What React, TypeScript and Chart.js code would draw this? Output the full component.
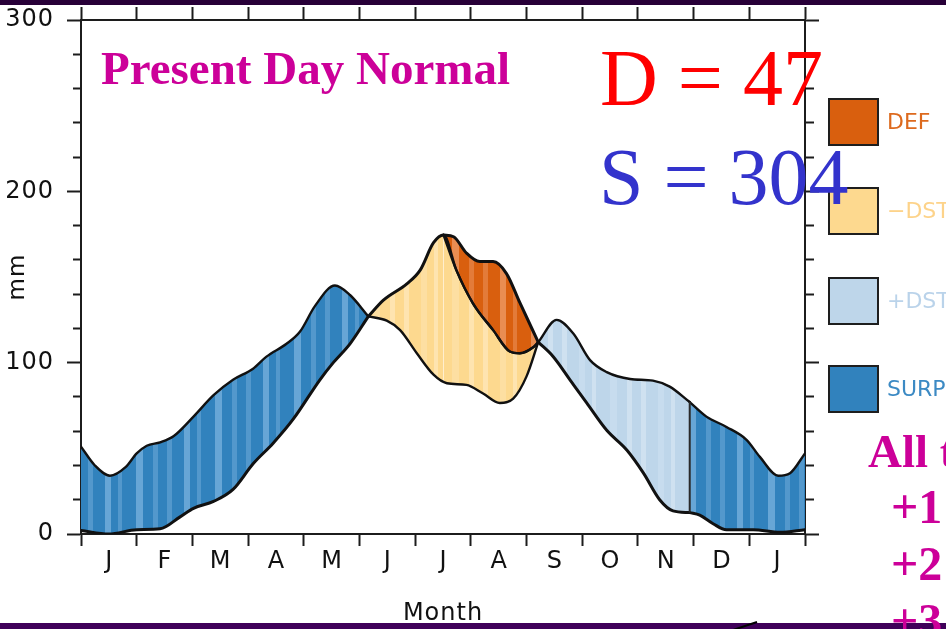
import { useEffect, useRef } from 'react';
import { Chart, registerables } from 'chart.js';

Chart.register(...registerables);

// Month initials along the bottom axis (Jan .. Dec, then Jan again)
const monthLabels = ['J', 'F', 'M', 'A', 'M', 'J', 'J', 'A', 'S', 'O', 'N', 'D', 'J'];

// Precipitation (P), position in months since 1 Jan and depth in mm
const precipMonth = [0, 0.25, 0.52, 0.8, 1.0, 1.18, 1.42, 1.66, 2.02, 2.38, 2.73, 3.09, 3.33, 3.69, 3.93, 4.2, 4.56, 4.83, 5.16, 5.49, 5.73, 6.03, 6.33, 6.57, 6.92, 7.22, 7.52, 7.76, 8.0, 8.21, 8.54, 8.84, 9.14, 9.44, 9.86, 10.27, 10.57, 10.93, 11.23, 11.59, 11.95, 12.19, 12.52, 12.73, 13];
const precipMm = [51, 40, 34, 39, 47, 51.5, 53.5, 57, 68.5, 81, 90, 96.5, 103.5, 111, 118, 133, 145, 139.5, 127, 124.5, 119, 105.5, 93, 88, 87, 82, 76.5, 79, 92, 112, 125, 117, 101.5, 94.5, 90.5, 89.5, 86, 77, 68.5, 62.5, 55, 45, 34, 35.5, 47];

// Potential evapotranspiration (PET)
const petMonth = [0, 0.5, 1.0, 1.42, 1.78, 2.02, 2.38, 2.73, 3.09, 3.45, 3.81, 4.29, 4.53, 4.83, 5.16, 5.43, 5.85, 6.09, 6.33, 6.51, 6.69, 6.92, 7.16, 7.4, 7.64, 7.88, 8.21, 8.48, 8.78, 9.08, 9.44, 9.8, 10.1, 10.39, 10.63, 10.93, 11.11, 11.35, 11.59, 12.07, 12.55, 13];
const petMm = [2, 0, 2.5, 3, 10, 15, 19, 26, 41, 53, 67, 90, 100, 111, 127, 136.5, 146, 154, 170, 174.5, 173.5, 164, 159, 159, 152, 135, 112, 103.5, 90, 76.5, 60.5, 49, 35.5, 20, 13.5, 12.5, 11, 6, 2.5, 2.5, 1, 2.5];

// Actual evapotranspiration once soil moisture runs short
const aetMonth = [6.51, 6.74, 7.04, 7.4, 7.7, 7.88, 8.12, 8.21];
const aetMm = [174.5, 154, 134.5, 119, 106.5, 105.5, 109, 112];

// Season boundaries (months)
const springCrossing = 5.16;
const deficitOnset = 6.51;
const autumnCrossing = 8.21;
const rechargeEnd = 10.93;

// Annual totals
const deficitTotal = 47;
const surplusTotal = 304;

const legendLabels = ['DEF', '\u2212DST', '+DST', 'SURP'];
const legendColors = ['#d95f0e', '#fdd98f', '#bed6ea', '#3182bd'];
const legendTextColors = ['#dd6a1e', '#fdd38a', '#bad3ea', '#3c8ac4'];

const sideNotes = ['+1', '+2', '+3'];

type Pt = { x: number; y: number };

const series = (xs: number[], ys: number[]): Pt[] => xs.map((x, i) => ({ x, y: ys[i] }));
const between = (pts: Pt[], a: number, b: number) =>
  pts.filter((p) => p.x >= a - 1e-9 && p.x <= b + 1e-9);

function stripes(ctx: CanvasRenderingContext2D, base: string, tones: string[]) {
  const widths = [9, 5, 12, 6, 7, 4, 14, 7, 10, 5];
  const c = document.createElement('canvas');
  c.width = widths.reduce((a, b) => a + b, 0);
  c.height = 4;
  const g = c.getContext('2d')!;
  let x = 0;
  widths.forEach((w, i) => {
    g.fillStyle = i % 2 === 0 ? base : tones[(i >> 1) % tones.length];
    g.fillRect(x, 0, w, 4);
    x += w;
  });
  return ctx.createPattern(c, 'repeat') || base;
}

const serif = '"Liberation Serif", "Times New Roman", serif';
const sans = '"DejaVu Sans", sans-serif';
const axisColor = '#1c1c1c';

// keep the plot frame where the axis boxes put it
const noOverhang = (s: any) => {
  s.paddingTop = 0;
  s.paddingBottom = 0;
  s.paddingLeft = 0;
  s.paddingRight = 0;
};

// slightly wider lettering for the axis text
const spacedText = {
  id: 'spacedText',
  beforeDraw: (chart: any) => {
    (chart.ctx as any).letterSpacing = '1px';
  },
};

export default function App() {
  const ref = useRef<HTMLCanvasElement>(null);

  useEffect(() => {
    const canvas = ref.current;
    if (!canvas) return;
    const ctx = canvas.getContext('2d')!;

    const precip = series(precipMonth, precipMm);
    const pet = series(petMonth, petMm);
    const aet = series(aetMonth, aetMm);
    const valueAt = (pts: Pt[], m: number) => pts.find((p) => Math.abs(p.x - m) < 1e-9)!.y;

    const fillDef = stripes(ctx, '#d95f0e', ['#e37b39', '#e98d52']);
    const fillUse = stripes(ctx, '#fdd98f', ['#fee4b0', '#fddfa2']);
    const fillRecharge = stripes(ctx, '#bed6ea', ['#cfe1f0', '#c7dcee']);
    const fillSurplus = stripes(ctx, '#3182bd', ['#5398cc', '#67a6d6']);

    const edge = (data: Pt[], width: number, extra: any = {}) => ({
      type: 'line',
      data,
      borderColor: '#111',
      borderWidth: width,
      borderJoinStyle: 'round',
      borderCapStyle: 'round',
      pointRadius: 0,
      cubicInterpolationMode: 'monotone',
      fill: false,
      ...extra,
    });
    const band = (top: Pt[], topW: number, bottom: Pt[], botW: number, bg: any, topExtra: any = {}) => [
      edge(top, topW, { fill: '+1', backgroundColor: bg, ...topExtra }),
      edge(bottom, botW),
    ];

    const divider = {
      type: 'line',
      data: [
        { x: rechargeEnd, y: valueAt(precip, rechargeEnd) },
        { x: rechargeEnd, y: valueAt(pet, rechargeEnd) },
      ],
      borderColor: '#2a2a2a',
      borderWidth: 2,
      pointRadius: 0,
      tension: 0,
      fill: false,
    };

    const pW = 2.4;
    const petW = 3;
    const aetW = 2.4;

    const datasets: any[] = [
      divider,
      // deficit: PET above AET
      ...band(between(pet, deficitOnset, autumnCrossing), petW, aet, aetW, fillDef),
      // soil moisture utilisation: AET above P
      ...band(
        [...between(pet, springCrossing, deficitOnset), ...aet.slice(1)],
        petW,
        between(precip, springCrossing, autumnCrossing),
        pW,
        fillUse,
        { segment: { borderWidth: (s: any) => (s.p0.parsed.x < deficitOnset - 1e-9 ? petW : aetW) } }
      ),
      // spring surplus
      ...band(between(precip, 0, springCrossing), pW, between(pet, 0, springCrossing), petW, fillSurplus),
      // autumn recharge
      ...band(between(precip, autumnCrossing, rechargeEnd), pW, between(pet, autumnCrossing, rechargeEnd), petW, fillRecharge),
      // winter surplus
      ...band(between(precip, rechargeEnd, 13), pW, between(pet, rechargeEnd, 13), petW, fillSurplus),
    ];

    const tickFont = { family: 'DejaVu Sans', size: 24 };

    const chart = new Chart(canvas, {
      type: 'line',
      data: { datasets },
      plugins: [spacedText],
      options: {
        responsive: false,
        animation: false,
        events: [],
        layout: { padding: 0 },
        plugins: {
          legend: { display: false },
          tooltip: { enabled: false },
          filler: { drawTime: 'beforeDatasetsDraw' },
        },
        scales: {
          x: {
            type: 'linear',
            position: 'bottom',
            min: 0,
            max: 13,
            afterFit: (s: any) => { s.height = 95; noOverhang(s); },
            ticks: {
              stepSize: 1,
              autoSkip: false,
              maxRotation: 0,
              labelOffset: 28.3,
              padding: 1,
              color: '#111',
              font: tickFont,
              callback: (v: any) => monthLabels[Math.round(v)] ?? '',
            },
            grid: { drawOnChartArea: false, drawTicks: true, tickLength: 12, tickWidth: 2, tickColor: axisColor },
            border: { display: true, color: axisColor, width: 2 },
            title: {
              display: true,
              text: 'Month',
              color: '#111',
              font: { family: 'DejaVu Sans', size: 24 },
              padding: { top: 0, bottom: 1 },
            },
          },
          xTop: {
            type: 'linear',
            axis: 'x',
            position: 'top',
            min: 0,
            max: 13,
            afterFit: (s: any) => { s.height = 20; noOverhang(s); },
            ticks: { display: false, stepSize: 1 },
            grid: { drawOnChartArea: false, drawTicks: true, tickLength: 13, tickWidth: 2, tickColor: axisColor },
            border: { display: true, color: axisColor, width: 2 },
          },
          y: {
            type: 'linear',
            position: 'left',
            min: 0,
            max: 300,
            afterFit: (s: any) => { s.width = 81; noOverhang(s); },
            ticks: {
              stepSize: 20,
              padding: 13,
              color: '#111',
              font: tickFont,
              callback: (v: any) => (Math.round(v) % 100 === 0 ? String(Math.round(v)) : ''),
            },
            grid: {
              drawOnChartArea: false,
              drawTicks: true,
              tickLength: 14,
              tickWidth: 2,
              tickColor: axisColor,
              tickBorderDash: (c: any) => (c.tick && Math.round(c.tick.value) % 100 !== 0 ? [0, 6, 8, 0] : []),
            },
            border: { display: true, color: axisColor, width: 2 },
            title: {
              display: true,
              text: 'mm',
              color: '#111',
              font: { family: 'DejaVu Sans', size: 23 },
              padding: { top: 4, bottom: 0 },
            },
          },
          yRight: {
            type: 'linear',
            axis: 'y',
            position: 'right',
            min: 0,
            max: 300,
            afterFit: (s: any) => { s.width = 141; noOverhang(s); },
            ticks: { display: false, stepSize: 20 },
            grid: {
              drawOnChartArea: false,
              drawTicks: true,
              tickLength: 14,
              tickWidth: 2,
              tickColor: axisColor,
              tickBorderDash: (c: any) => (c.tick && Math.round(c.tick.value) % 100 !== 0 ? [8, 6] : []),
            },
            border: { display: true, color: axisColor, width: 2 },
          },
        },
      } as any,
    } as any);

    return () => chart.destroy();
  }, []);

  const abs = (s: any) => ({ position: 'absolute', whiteSpace: 'nowrap', lineHeight: 1, margin: 0, ...s });
  const legendTops = [98, 187, 277, 365];

  return (
    <div style={{ position: 'fixed', left: 0, top: 0, width: 946, height: 629, overflow: 'hidden', background: '#fff' }}>
      <canvas ref={ref} width={946} height={629} style={{ position: 'absolute', left: 0, top: 0, width: 946, height: 629 }} />

      {legendLabels.map((lab, i) => (
        <div key={lab}>
          <div
            style={abs({
              left: 828,
              top: legendTops[i],
              width: 51,
              height: 48,
              boxSizing: 'border-box',
              border: '2px solid #1e1e1e',
              background: legendColors[i],
            })}
          />
          <div
            style={abs({
              left: 887,
              top: legendTops[i],
              height: 48,
              lineHeight: '48px',
              fontFamily: sans,
              fontSize: 22,
              color: legendTextColors[i],
            })}
          >
            {lab}
          </div>
        </div>
      ))}

      <div style={abs({ left: 101, top: 45, fontFamily: serif, fontWeight: 'bold', fontSize: 47, color: '#cc0099' })}>
        Present Day Normal
      </div>
      <div style={abs({ left: 600, top: 38, fontFamily: serif, fontSize: 80, color: '#ff0000' })}>
        D = {deficitTotal}
      </div>
      <div style={abs({ left: 599, top: 137, fontFamily: serif, fontSize: 80, color: '#3333cc' })}>
        S = {surplusTotal}
      </div>
      <div style={abs({ left: 868, top: 428, fontFamily: serif, fontWeight: 'bold', fontSize: 47, color: '#cc0099' })}>
        All t
      </div>

      <div style={abs({ left: 0, top: 0, width: 946, height: 5, background: '#280038' })} />
      <div style={abs({ left: 0, top: 623, width: 946, height: 6, background: '#3f0059' })} />
      <svg width={946} height={629} style={{ position: 'absolute', left: 0, top: 0 }}>
        <line x1={733} y1={630} x2={757} y2={622} stroke="#000" strokeWidth={2} />
      </svg>

      {sideNotes.map((t, i) => (
        <div
          key={t}
          style={abs({ left: 891, top: 483 + i * 57, fontFamily: serif, fontWeight: 'bold', fontSize: 48, color: '#cc0099' })}
        >
          {t}
        </div>
      ))}
    </div>
  );
}
